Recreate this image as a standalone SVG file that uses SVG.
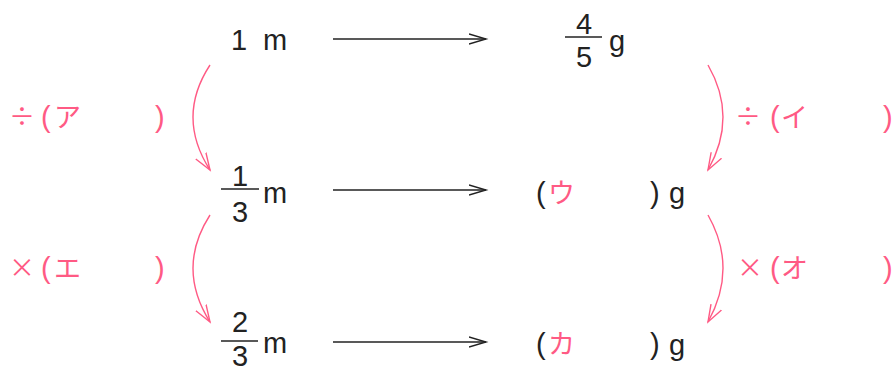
<svg xmlns="http://www.w3.org/2000/svg" width="893" height="371" viewBox="0 0 893 371">
<defs>
<marker id="ah" markerUnits="userSpaceOnUse" markerWidth="20" markerHeight="14" refX="17" refY="7" orient="auto" viewBox="0 0 20 14">
<path d="M0,2 L17,7 L0,12" fill="none" stroke="#222" stroke-width="1.4"/>
</marker>
<marker id="ahp" markerUnits="userSpaceOnUse" markerWidth="20" markerHeight="14" refX="17" refY="7" orient="auto" viewBox="0 0 20 14">
<path d="M0,1 L17,7 L0,13" fill="none" stroke="#ff5a84" stroke-width="1.4"/>
</marker>
</defs>
<style>
.t{font-family:"Liberation Sans","Noto Sans",sans-serif;font-size:29px;fill:#222}
.p{font-family:"Liberation Sans","Noto Sans CJK JP",sans-serif;font-size:29px;fill:#ff5a84}
.k{font-family:"Noto Sans CJK JP",sans-serif;font-size:27px;fill:#ff5a84}
.kb{font-family:"Noto Sans CJK JP",sans-serif;font-size:26px;fill:#ff5a84}
.bar{stroke:#222;stroke-width:1.6}
.h{stroke:#222;stroke-width:1.3;fill:none;marker-end:url(#ah)}
.c{stroke:#ff5a84;stroke-width:1.4;fill:none;marker-end:url(#ahp)}
</style>
<g id="n1m">
<text class="t" x="231" y="50">1</text>
<text class="t" x="263" y="50">m</text>
</g>
<g id="n45g">
<text class="t" x="584" y="34" text-anchor="middle">4</text>
<line class="bar" x1="565" y1="37" x2="602" y2="37"/>
<text class="t" x="584" y="67" text-anchor="middle">5</text>
<text class="t" x="609" y="51">g</text>
</g>
<g id="n13m">
<text class="t" x="240" y="186" text-anchor="middle">1</text>
<line class="bar" x1="221" y1="189" x2="259" y2="189"/>
<text class="t" x="240" y="222" text-anchor="middle">3</text>
<text class="t" x="263" y="203">m</text>
</g>
<g id="nu">
<text class="t" x="536" y="203">(</text>
<text class="k" x="548" y="203">ウ</text>
<text class="t" x="650" y="203">)</text>
<text class="t" x="669" y="203">g</text>
</g>
<g id="n23m">
<text class="t" x="240" y="332" text-anchor="middle">2</text>
<line class="bar" x1="221" y1="341" x2="258" y2="341"/>
<text class="t" x="240" y="366" text-anchor="middle">3</text>
<text class="t" x="263" y="353">m</text>
</g>
<g id="nka">
<text class="t" x="536" y="354">(</text>
<text class="k" x="548" y="354">カ</text>
<text class="t" x="650" y="354">)</text>
<text class="t" x="669" y="355">g</text>
</g>
<g id="la">
<text class="kb" x="9" y="126">÷</text>
<text class="p" x="41" y="127">(</text>
<text class="k" x="54" y="127">ア</text>
<text class="p" x="155" y="127">)</text>
</g>
<g id="li">
<text class="kb" x="735" y="126">÷</text>
<text class="p" x="770" y="127">(</text>
<text class="k" x="781" y="127">イ</text>
<text class="p" x="883" y="127">)</text>
</g>
<g id="le">
<text class="kb" x="9" y="277">×</text>
<text class="p" x="41" y="278">(</text>
<text class="k" x="54" y="278">エ</text>
<text class="p" x="155" y="278">)</text>
</g>
<g id="lo">
<text class="kb" x="737" y="277">×</text>
<text class="p" x="770" y="278">(</text>
<text class="k" x="781" y="278">オ</text>
<text class="p" x="883" y="278">)</text>
</g>
<g id="connectors">
<line class="h" x1="333" y1="39" x2="486" y2="39"/>
<line class="h" x1="333" y1="190" x2="486" y2="190"/>
<line class="h" x1="333" y1="342" x2="486" y2="342"/>
<path class="c" d="M210,65 Q176,117 210,170"/>
<path class="c" d="M708,65 Q738,117 708,170"/>
<path class="c" d="M210,215 Q176,268 210,322"/>
<path class="c" d="M708,215 Q738,268 708,322"/>
</g>
</svg>
